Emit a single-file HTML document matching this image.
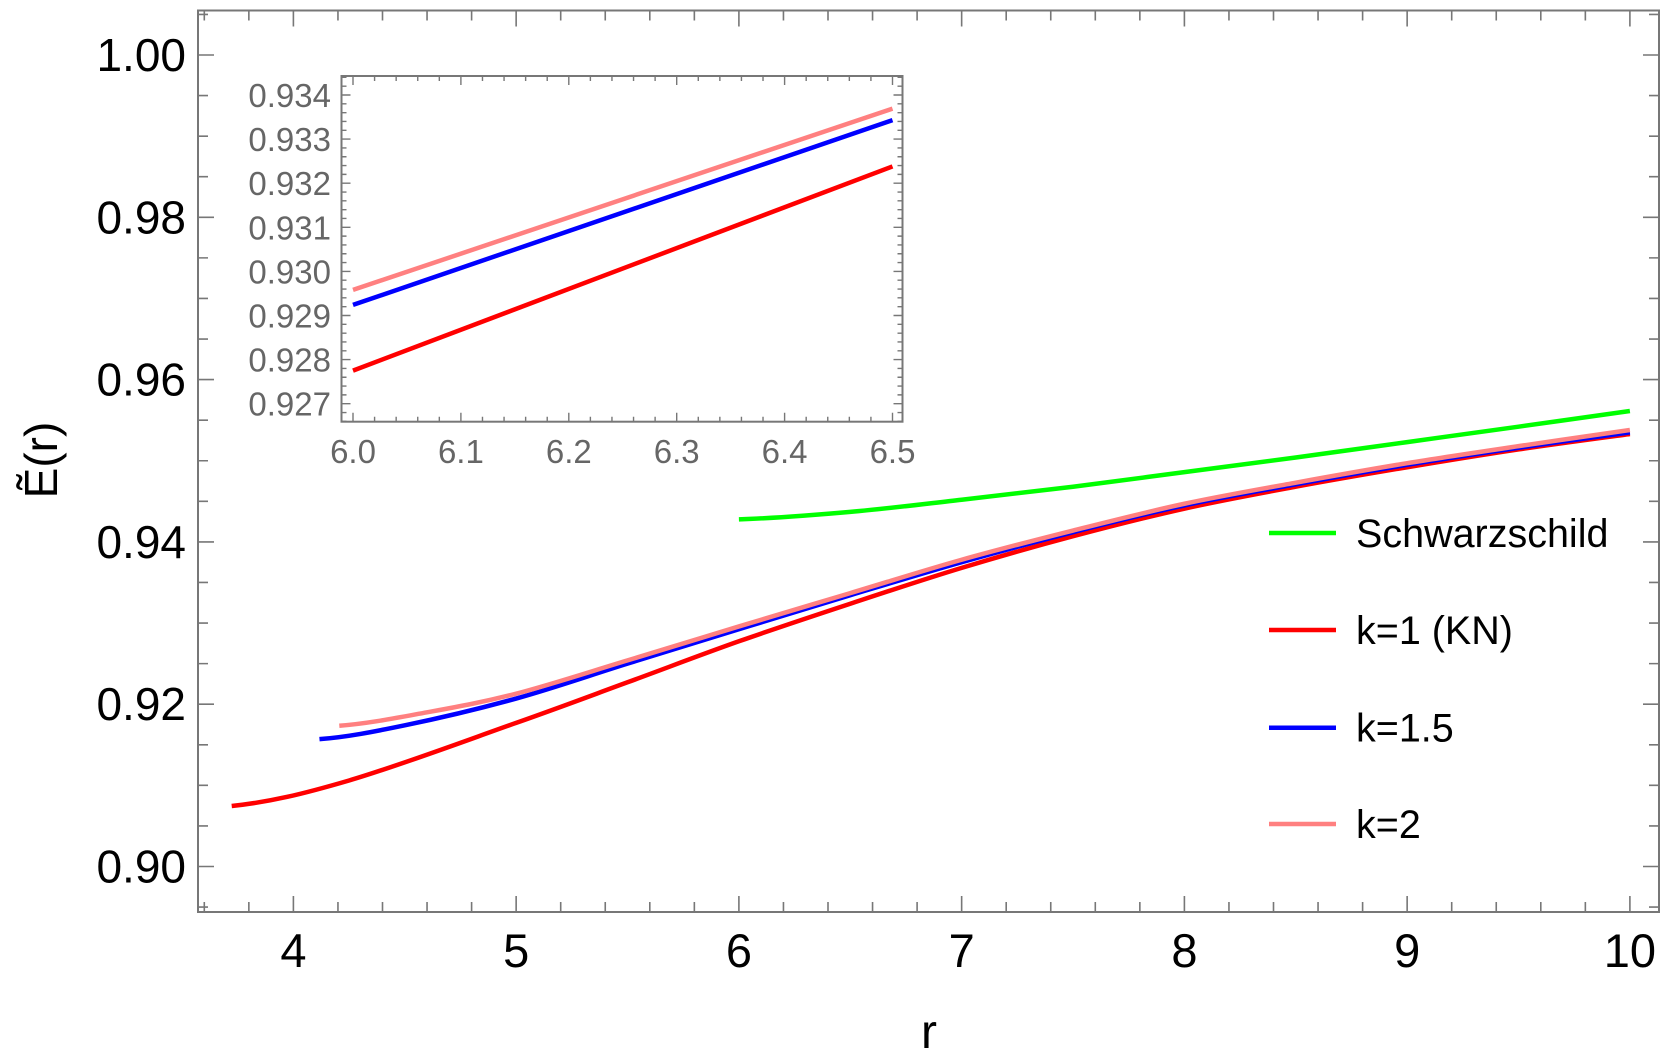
<!DOCTYPE html>
<html><head><meta charset="utf-8"><style>
html,body{margin:0;padding:0;background:#fff}
svg{display:block;font-family:"Liberation Sans",Arial,sans-serif}
</style></head><body>
<svg id="chart" width="1661" height="1063" viewBox="0 0 1661 1063" xmlns="http://www.w3.org/2000/svg">
<g id="main"></g>
<g id="inset"></g>
<g id="legend"></g>
</svg>
<script>
// main series data
const schwR = [6.0, 6.5, 7.0, 7.5, 8.0, 8.5, 9.0, 9.5, 10.0];
const schwE = [0.94278, 0.9437, 0.9452, 0.9468, 0.9486, 0.9504, 0.9523, 0.9542, 0.95613];
const k1R = [3.723, 4.25, 5.0, 5.5, 6.0, 6.5, 7.0, 7.5, 8.0, 8.5, 9.0, 9.5, 10.0];
const k1E = [0.90745, 0.9106, 0.9177, 0.9227, 0.92775, 0.93238, 0.9368, 0.9407, 0.9441, 0.9468, 0.9492, 0.9514, 0.9533];
const k15R = [4.117, 4.5, 5.0, 5.5, 6.0, 6.5, 7.0, 7.5, 8.0, 8.5, 9.0, 9.5, 10.0];
const k15E = [0.91569, 0.9174, 0.9207, 0.9250, 0.92924, 0.93343, 0.9375, 0.9412, 0.9445, 0.9471, 0.9495, 0.9516, 0.9535];
const k2R = [4.206, 4.6, 5.0, 5.5, 6.0, 6.5, 7.0, 7.5, 8.0, 8.5, 9.0, 9.5, 10.0];
const k2E = [0.91734, 0.9190, 0.9213, 0.9254, 0.92958, 0.93369, 0.9378, 0.9414, 0.9447, 0.9473, 0.9497, 0.9518, 0.95379];
// inset data
const insetR = [6.0, 6.5];
const insetK1 = [0.92775, 0.93238];
const insetK15 = [0.92924, 0.93343];
const insetK2 = [0.92958, 0.93369];
// ticks
const xTicks = [4, 5, 6, 7, 8, 9, 10];
const yTicks = [0.90, 0.92, 0.94, 0.96, 0.98, 1.00];
const insetXTicks = [6.0, 6.1, 6.2, 6.3, 6.4, 6.5];
const insetYTicks = [0.927, 0.928, 0.929, 0.930, 0.931, 0.932, 0.933, 0.934];
const legendLabels = ["Schwarzschild", "k=1 (KN)", "k=1.5", "k=2"];
const legendColors = ["#00ff00", "#ff0000", "#0000ff", "#ff8080"];

const NS = "http://www.w3.org/2000/svg";
function mk(tag, attrs, parent){const e=document.createElementNS(NS,tag);for(const k in attrs)e.setAttribute(k,attrs[k]);parent.appendChild(e);return e;}

const L=198,R=1659,T=10.5,B=912;
const X=r=>293.4+(r-4)*222.75;
const Y=v=>55+(1.00-v)*8115;
const IL=341.5,IR=902.5,IT=76,IB=421.7;
const IX=r=>353+(r-6.0)*1079;
const IY=v=>95+(0.934-v)*44100;

const main=document.getElementById('main');
const inset=document.getElementById('inset');
const legend=document.getElementById('legend');

function smooth(xs,ys,flatStart){
  const p=xs.map((x,i)=>[x,ys[i]]);
  if(p.length===2) return `M${p[0][0]},${p[0][1]} L${p[1][0]},${p[1][1]}`;
  let d="M"+p[0][0].toFixed(2)+","+p[0][1].toFixed(2);
  for(let i=0;i<p.length-1;i++){
    const p1=p[i],p2=p[i+1],p3=p[i+2]||p2;
    const p0=p[i-1]||(flatStart?[p1[0]-(p2[0]-p1[0]),p1[1]]:p1);
    const c1=[p1[0]+(p2[0]-p0[0])/6,p1[1]+(p2[1]-p0[1])/6];
    const c2=[p2[0]-(p3[0]-p1[0])/6,p2[1]-(p3[1]-p1[1])/6];
    d+=" C"+c1.join(",")+" "+c2.join(",")+" "+p2.join(",");
  }
  return d;
}

let fr=mk('rect',{x:L,y:T,width:R-L,height:B-T,fill:'none',stroke:'#777','stroke-width':2},main);


let tk="";
for(let r=3.6;r<=10.11;r+=0.2){const x=X(r);const maj=Math.abs(r-Math.round(r))<1e-6;const len=maj?16:10;tk+=`M${x},${B}v${-len}M${x},${T}v${len}`;}
for(let v=0.895;v<=1.0051;v+=0.005){const y=Y(v);const maj=Math.abs(v*50-Math.round(v*50))<1e-6;const len=maj?16:10;tk+=`M${L},${y}h${len}M${R},${y}h${-len}`;}
let tp=mk('path',{d:tk,stroke:'#777','stroke-width':1.6,fill:'none'},main);


xTicks.forEach(r=>{const t=mk('text',{x:X(r),y:967,'font-size':47,'text-anchor':'middle',fill:'#000'},main);t.textContent=String(r);

});
yTicks.forEach(v=>{const t=mk('text',{x:186,y:Y(v)+16,'font-size':46,'text-anchor':'end',fill:'#000'},main);t.textContent=v.toFixed(2);

});
let xl=mk('text',{x:929,y:1048,'font-size':48,'text-anchor':'middle',fill:'#000'},main);xl.textContent='r';


let yl=mk('text',{x:0,y:0,'font-size':46,'text-anchor':'middle',fill:'#000',transform:'translate(57,460) rotate(-90)'},main);yl.textContent='Ẽ(r)';



const cp=mk('clipPath',{id:'mc'},main);mk('rect',{x:L,y:T,width:R-L,height:B-T},cp);
[[schwR,schwE,'#00ff00','curve-schwarzschild'],[k1R,k1E,'#ff0000','curve-k1'],[k15R,k15E,'#0000ff','curve-k1-5'],[k2R,k2E,'#ff8080','curve-k2']].forEach(([rs,es,c,n])=>{
  const p=mk('path',{d:smooth(rs.map(X),es.map(Y),true),stroke:c,'stroke-width':4.5,fill:'none','clip-path':'url(#mc)'},main);
  
  
});

let ib=mk('rect',{x:IL,y:IT,width:IR-IL,height:IB-IT,fill:'#fff',stroke:'#777','stroke-width':2},inset);


let itk="";
for(let i=-1;i<=26;i++){const r=6+i*0.02;const x=IX(r);if(x<IL||x>IR)continue;const maj=i%5===0;const len=maj?9:5;itk+=`M${x},${IB}v${-len}M${x},${IT}v${len}`;}
for(let i=-2;i<=37;i++){const v=0.927+i*0.0002;const y=IY(v);if(y<IT||y>IB)continue;const maj=i%5===0;const len=maj?9:5;itk+=`M${IL},${y}h${len}M${IR},${y}h${-len}`;}
let itp=mk('path',{d:itk,stroke:'#777','stroke-width':1.4,fill:'none'},inset);


insetXTicks.forEach(r=>{const t=mk('text',{x:IX(r),y:463,'font-size':33,'text-anchor':'middle',fill:'#666'},inset);t.textContent=r.toFixed(1);

});
insetYTicks.forEach(v=>{const t=mk('text',{x:331,y:IY(v)+12,'font-size':33,'text-anchor':'end',fill:'#666'},inset);t.textContent=v.toFixed(3);

});
const icp=mk('clipPath',{id:'ic'},inset);mk('rect',{x:IL,y:IT,width:IR-IL,height:IB-IT},icp);
[[insetK1,'#ff0000','inset-curve-k1'],[insetK15,'#0000ff','inset-curve-k1-5'],[insetK2,'#ff8080','inset-curve-k2']].forEach(([es,c,n])=>{
  const p=mk('path',{d:smooth(insetR.map(IX),es.map(IY),false),stroke:c,'stroke-width':4.5,fill:'none','clip-path':'url(#ic)'},inset);
  
  
});

const ly=[533,630,727.7,824];
legendLabels.forEach((lab,i)=>{
  const g=mk('g',{},legend);
  
  
  mk('line',{x1:1269,x2:1336,y1:ly[i],y2:ly[i],stroke:legendColors[i],'stroke-width':4.5},g);
  const t=mk('text',{x:1356,y:ly[i]+14,'font-size':39.5,fill:'#000'},g);t.textContent=lab;
});
</script>
</body></html>
